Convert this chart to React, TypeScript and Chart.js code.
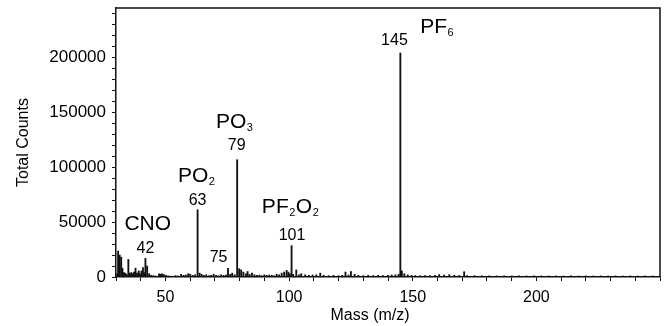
import React, { useEffect, useRef } from "react";
import { Chart, registerables } from "chart.js";

Chart.register(...registerables);

// ---- Data ----
const masses = [
  30.5, 30.85, 31.5, 32.1, 32.6, 33.2, 33.7, 34.3, 35.0, 35.6, 36.2, 36.8, 37.3, 37.9, 38.5, 39.2, 39.7, 40.3, 40.9, 41.4,
  41.9, 42.6, 43.4, 44.2, 45, 46, 47.4, 48.0, 48.6, 49.4, 50.3, 51.2, 52.5, 54, 55, 56.3, 57.3, 58.2, 59.2, 60.0,
  61, 62, 63, 63.8, 64.6, 65.5, 66.5, 67.5, 68.5, 69.5, 70.5, 71.5, 72.5, 73.5, 74.5, 75.3, 76.2, 77, 78, 79,
  79.8, 80.6, 81.5, 82.5, 83.2, 84, 85, 86, 87, 88, 89, 90, 91, 92, 93, 94, 95, 96, 97, 98,
  99, 99.7, 100.3, 101, 101.6, 102.9, 104, 104.9, 106.5, 108, 109.5, 111, 112.6, 114, 116, 118, 120, 121.5, 122.8, 124,
  125, 126.5, 128, 130, 132, 134, 136, 138, 140, 141.5, 143, 144.3, 145, 145.6, 146.6, 148, 149.5, 151, 153, 155,
  157, 159, 160.7, 162.7, 164.8, 166.8, 168.8, 170.8, 172, 175, 178, 181, 184, 187, 190, 193, 196, 199, 202, 205,
  208, 211, 214, 217, 220, 223, 226, 229, 232, 235, 238, 241, 244, 247,
];
const counts = [
  3000, 23600, 20000, 18000, 8000, 4000, 3500, 2500, 16000, 3500, 4000, 3000, 4500, 8000, 3500, 5500, 3000, 5500, 8500, 4000,
  17000, 10000, 3000, 1500, 1200, 1000, 3000, 2500, 2800, 2200, 1500, 1000, 800, 1200, 1000, 2500, 1500, 1800, 3000, 2500,
  1500, 2000, 61200, 3500, 2500, 1500, 2000, 1200, 1500, 2500, 1500, 1200, 2000, 1500, 1800, 7800, 2500, 3500, 2000, 106800,
  7500, 6500, 4500, 3000, 5000, 2500, 3500, 2000, 1500, 1800, 1200, 2000, 1500, 1800, 1500, 1200, 2500, 2000, 3500, 4500,
  6000, 4500, 3000, 28600, 2500, 6400, 2000, 3000, 2000, 1500, 1800, 2000, 3500, 1500, 1200, 1500, 1200, 1500, 4500, 1800,
  5000, 2500, 1500, 1200, 1500, 1300, 1500, 1300, 1600, 1800, 2000, 2500, 204000, 5500, 3000, 2000, 1500, 1300, 1200, 1300,
  1400, 1500, 2200, 1800, 2200, 1500, 1400, 4800, 1300, 1200, 1000, 1100, 1000, 1100, 1000, 1100, 1000, 1100, 1000, 900,
  1000, 900, 1000, 900, 1000, 900, 1000, 900, 1000, 900, 1000, 900, 1000, 900,
];

// Axis ranges and tick values
const xMin = 30;
const xMax = 250;
const xMinorTicks = [30, 40, 50, 60, 70, 80, 90, 100, 110, 120, 130, 140, 150, 160, 170, 180, 190, 200, 210, 220, 230, 240, 250];
const xLabelTicks = [50, 100, 150, 200];
const yMin = 0;
const yMax = 245000;
const yMinorTicks = [
  0, 10000, 20000, 30000, 40000, 50000, 60000, 70000, 80000, 90000, 100000, 110000, 120000,
  130000, 140000, 150000, 160000, 170000, 180000, 190000, 200000, 210000, 220000, 230000, 240000,
];
const yLabelTicks = [0, 50000, 100000, 150000, 200000];

const xTitle = "Mass (m/z)";
const yTitle = "Total Counts";

// Peak annotations (parts alternate: normal, subscript, normal, subscript ...)
const annoParts: string[][] = [
  ["CNO"], ["42"], ["PO", "2"], ["63"], ["PO", "3"], ["79"], ["75"],
  ["PF", "2", "O", "2"], ["101"], ["145"], ["PF", "6"],
];
const annoMass = [42.84, 41.9, 62.6, 63.0, 78.0, 78.8, 71.5, 100.6, 101.2, 142.6, 159.9];
const annoCount = [42900, 21900, 86700, 65700, 136000, 116000, 13700, 58400, 33800, 210900, 221900];
const annoIsFormula = [true, false, true, false, true, false, false, true, false, false, true];

const FONT = "'Liberation Sans', Arial, Helvetica, sans-serif";

const annotationPlugin = {
  id: "peakLabels",
  afterDatasetsDraw(chart: any) {
    const ctx = chart.ctx;
    const xs = chart.scales.x;
    const ys = chart.scales.y;
    ctx.save();
    ctx.fillStyle = "#000";
    ctx.textBaseline = "alphabetic";
    ctx.textAlign = "left";
    annoParts.forEach((parts, i) => {
      const mainSize = annoIsFormula[i] ? 21 : 16;
      const subSize = 11;
      const widths = parts.map((p, k) => {
        ctx.font = `${k % 2 === 1 ? subSize : mainSize}px ${FONT}`;
        return ctx.measureText(p).width + (k % 2 === 1 ? 1 : 0);
      });
      const total = widths.reduce((a, b) => a + b, 0);
      let cx = xs.getPixelForValue(annoMass[i]) - total / 2;
      const by = ys.getPixelForValue(annoCount[i]);
      parts.forEach((p, k) => {
        const sub = k % 2 === 1;
        ctx.font = `${sub ? subSize : mainSize}px ${FONT}`;
        ctx.fillText(p, cx + (sub ? 0.5 : 0), sub ? by + 3 : by);
        cx += widths[k];
      });
    });

    // x-axis title (sits a little left of the plot centre in the reference)
    const { left, right, bottom } = chart.chartArea;
    ctx.font = `16px ${FONT}`;
    ctx.textAlign = "center";
    ctx.textBaseline = "middle";
    ctx.fillText(xTitle, left + (right - left) * 0.467, bottom + 39);
    ctx.restore();
  },
};

const framePlugin = {
  id: "frame",
  afterDraw(chart: any) {
    const { left, right, top, bottom } = chart.chartArea;
    const ctx = chart.ctx;
    ctx.save();
    ctx.strokeStyle = "#111";
    ctx.lineWidth = 1.5;
    ctx.beginPath();
    ctx.moveTo(left, top);
    ctx.lineTo(right, top);
    ctx.lineTo(right, bottom);
    ctx.stroke();
    ctx.restore();
  },
};

export default function App() {
  const ref = useRef<HTMLCanvasElement | null>(null);

  useEffect(() => {
    if (!ref.current) return;
    Chart.defaults.font.family = FONT;
    const chart = new Chart(ref.current, {
      type: "bar",
      data: {
        datasets: [
          {
            data: masses.map((m, i) => ({ x: m, y: counts[i] })),
            backgroundColor: "#111",
            borderWidth: 0,
            barThickness: 1.2,
            grouped: false,
          } as any,
        ],
      },
      options: {
        animation: false,
        responsive: true,
        maintainAspectRatio: false,
        layout: { padding: { left: 0, right: 7, top: 8, bottom: 0 } },
        plugins: {
          legend: { display: false },
          tooltip: { enabled: false },
        },
        scales: {
          x: {
            type: "linear",
            offset: false,
            min: xMin,
            max: xMax,
            afterBuildTicks: (s: any) => {
              s.ticks = xMinorTicks.map((v) => ({ value: v }));
            },
            afterFit: (s: any) => {
              s.height = 49;
              s.paddingLeft = 0;
              s.paddingRight = 0;
            },
            ticks: {
              autoSkip: false,
              maxRotation: 0,
              minRotation: 0,
              color: "#000",
              font: { size: 16 },
              padding: 7,
              callback: (v: any) => (xLabelTicks.includes(Number(v)) ? String(v) : ""),
            },
            grid: { offset: false, drawOnChartArea: false, drawTicks: true, tickLength: 4, tickColor: "#111" },
            border: { display: true, color: "#111", width: 1.5 },
            title: { display: false },
          },
          y: {
            type: "linear",
            min: yMin,
            max: yMax,
            afterBuildTicks: (s: any) => {
              s.ticks = yMinorTicks.map((v) => ({ value: v }));
            },
            afterFit: (s: any) => {
              s.width = 116;
              s.paddingTop = 0;
              s.paddingBottom = 0;
            },
            ticks: {
              autoSkip: false,
              color: "#000",
              font: { size: 17 },
              padding: 6,
              callback: (v: any) => (yLabelTicks.includes(Number(v)) ? String(v) : ""),
            },
            grid: { drawOnChartArea: false, drawTicks: true, tickLength: 4, tickColor: "#111" },
            border: { display: true, color: "#111", width: 1.5 },
            title: { display: true, text: yTitle, color: "#000", font: { size: 16 }, padding: { top: 14, bottom: 0 } },
          },
        },
      },
      plugins: [annotationPlugin, framePlugin],
    });
    return () => chart.destroy();
  }, []);

  return (
    <div style={{ position: "fixed", left: 0, top: 0, width: 667, height: 326, background: "#fff" }}>
      <canvas ref={ref} />
    </div>
  );
}
